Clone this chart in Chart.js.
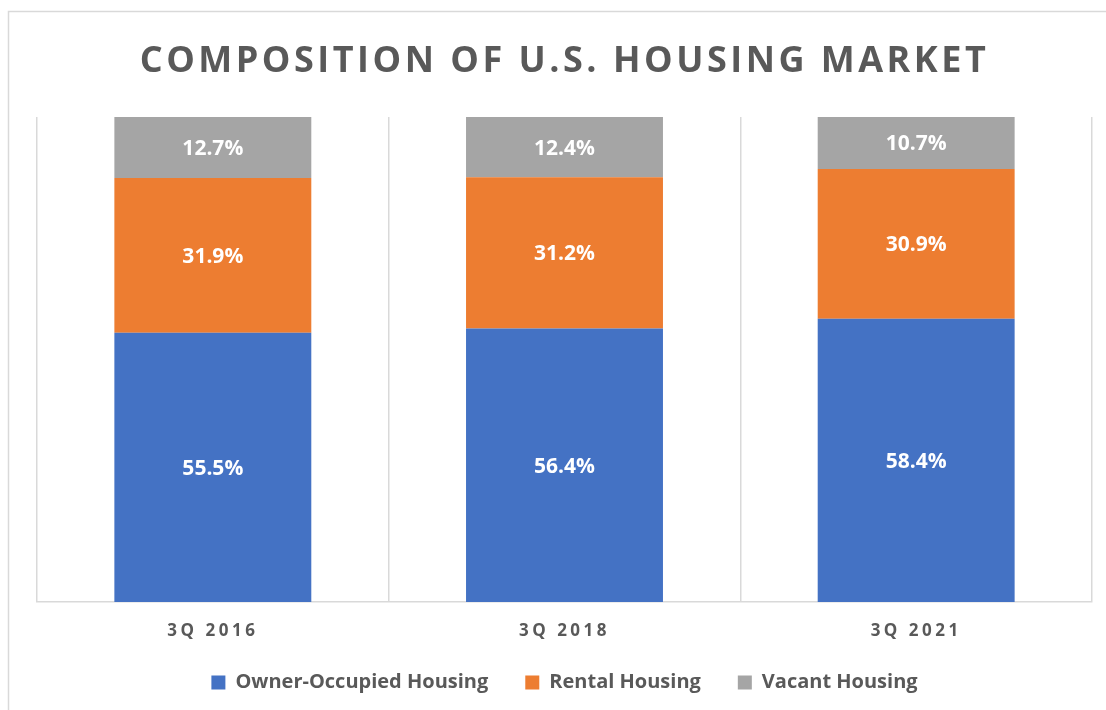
<!DOCTYPE html>
<html><head><meta charset="utf-8">
<script src="https://cdn.jsdelivr.net/npm/chart.js@4.4.0/dist/chart.umd.min.js"></script>
<style>html,body{margin:0;padding:0;background:#fff;overflow:hidden}</style>
</head><body>
<canvas id="c" width="1106" height="710"></canvas>
<script>
const categories = ['3Q 2016', '3Q 2018', '3Q 2021'];
const ownerOccupied = [55.5, 56.4, 58.4];
const rental = [31.9, 31.2, 30.9];
const vacant = [12.7, 12.4, 10.7];
const seriesNames = ['Owner-Occupied Housing', 'Rental Housing', 'Vacant Housing'];
const titleText = 'COMPOSITION OF U.S. HOUSING MARKET';

const TEXT = '#595959';
const FONT = '"Open Sans", "DejaVu Sans", sans-serif';

const decorPlugin = {
  id: 'decor',
  beforeDraw(chart) {
    const ctx = chart.ctx;
    ctx.save();
    ctx.fillStyle = '#fff';
    ctx.fillRect(0, 0, chart.width, chart.height);
    ctx.strokeStyle = '#D9D9D9';
    ctx.lineWidth = 1.5;
    ctx.strokeRect(8.5, 11.5, 1300, 900);
    ctx.restore();
    const tb = chart.titleBlock;
    if (tb && !tb.__ls) {
      const d = tb.draw;
      tb.draw = function (...a) { chart.ctx.save(); chart.ctx.letterSpacing = '3.5px'; d.apply(this, a); chart.ctx.restore(); };
      tb.__ls = true;
    }
    const xs = chart.scales.x;
    if (xs && !xs.__ls) {
      const d = xs.drawLabels;
      xs._computeLabelArea = function () { return undefined; };
      xs.drawLabels = function (...a) { chart.ctx.save(); chart.ctx.letterSpacing = '3.5px'; d.apply(this, a); chart.ctx.restore(); };
      xs.__ls = true;
    }
  },
  afterDatasetsDraw(chart) {
    const ctx = chart.ctx;
    ctx.save();
    ctx.letterSpacing = '0px';
    ctx.font = 'bold 21px ' + FONT;
    ctx.fillStyle = '#fff';
    ctx.textAlign = 'center';
    ctx.textBaseline = 'middle';
    chart.data.datasets.forEach((ds, i) => {
      const meta = chart.getDatasetMeta(i);
      meta.data.forEach((bar, j) => {
        const v = ds.data[j];
        ctx.fillText(v.toFixed(1) + '%', bar.x, (bar.y + bar.base) / 2 + 1.5);
      });
    });
    ctx.restore();
  }
};

new Chart(document.getElementById('c'), {
  type: 'bar',
  data: {
    labels: categories,
    datasets: [
      { label: seriesNames[0], data: ownerOccupied, backgroundColor: '#4472C4' },
      { label: seriesNames[1], data: rental, backgroundColor: '#ED7D31' },
      { label: seriesNames[2], data: vacant, backgroundColor: '#A5A5A5' }
    ]
  },
  options: {
    responsive: false,
    animation: false,
    layout: { padding: { left: 37, right: 14, top: 0, bottom: 7.5 } },
    datasets: { bar: { categoryPercentage: 1, barPercentage: 0.56 } },
    plugins: {
      tooltip: { enabled: false },
      title: {
        display: true,
        text: titleText,
        color: TEXT,
        font: { family: FONT, size: 36, weight: 'bold', lineHeight: 1.2 },
        padding: { top: 40, bottom: 33.8 }
      },
      legend: {
        position: 'bottom',
        labels: {
          color: TEXT,
          font: { family: FONT, size: 20, weight: 'bold' },
          boxWidth: 14, boxHeight: 14, padding: 37
        }
      }
    },
    scales: {
      x: {
        stacked: true,
        grid: { display: true, offset: true, color: '#D9D9D9', lineWidth: 1.5, drawTicks: false },
        border: { display: true, color: '#D9D9D9', width: 1.5 },
        ticks: { color: TEXT, font: { family: FONT, size: 17, weight: 'bold' }, padding: 19 },
        afterFit(s) { s.height = 33.5; }
      },
      y: {
        stacked: true, display: false, min: 0, max: 100
      }
    }
  },
  plugins: [decorPlugin]
});
</script>
</body></html>
